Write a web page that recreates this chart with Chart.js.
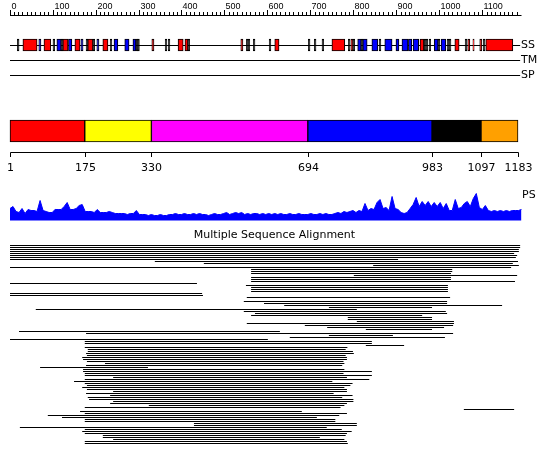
<!DOCTYPE html>
<html>
<head>
<meta charset="utf-8">
<script src="https://cdn.jsdelivr.net/npm/chart.js@4.4.0/dist/chart.umd.min.js"></script>
<style>
  html, body { margin: 0; padding: 0; background: #fff; }
  canvas { display: block; }
</style>
</head>
<body>
<canvas id="id_graph" width="550" height="465"></canvas>
<script>
// Longitud de la secuencia y marcas de los ejes
var seqLength = 1183;
var rulerTicks = [0, 100, 200, 300, 400, 500, 600, 700, 800, 900, 1000, 1100];
var domainTicks = [1, 175, 330, 694, 983, 1097, 1183];

// Dominios
var domainStart = [1, 175, 330, 694, 983, 1097];
var domainEnd = [175, 330, 694, 983, 1097, 1183];

// Estructura secundaria (SS)
var helixStart = [31, 80, 124, 152, 182, 217, 331, 392, 408, 538, 617, 750, 794, 955, 1036, 1066, 1078, 1094, 1108];
var helixEnd = [64, 96, 136, 164, 194, 229, 336, 404, 415, 543, 627, 780, 799, 964, 1046, 1071, 1081, 1099, 1171];
var strandStart = [68, 110, 137, 166, 203, 243, 268, 287, 810, 822, 843, 873, 899, 913, 928, 939, 988, 1004];
var strandEnd = [73, 120, 145, 171, 208, 252, 278, 294, 818, 832, 857, 890, 906, 927, 936, 952, 997, 1015];
var coilMarks = [20, 103, 122, 180, 196, 236, 297, 300, 364, 371, 417, 553, 557, 569, 606, 697, 711, 729,
  790, 801, 820, 862, 967, 971, 978, 999, 1020, 1025, 1062, 1104];

// Perfil PS (una muestra cada 7 residuos)
var psStep = 7;
var psValues = [
  12, 14, 9, 8, 12, 7, 11, 10, 10, 9,
  20, 10, 9, 8, 8, 11, 11, 11, 14, 18,
  11, 11, 12, 15, 16, 9, 9, 9, 8, 11,
  8, 8, 8, 9, 8, 7, 7, 7, 7, 6,
  7, 7, 10, 6, 6, 6, 5, 6, 5, 5,
  6, 5, 5, 6, 6, 7, 6, 6, 7, 6,
  6, 7, 6, 7, 6, 6, 5, 6, 7, 6,
  6, 7, 8, 6, 7, 8, 7, 8, 6, 7,
  6, 7, 7, 6, 7, 6, 7, 6, 7,
  6, 7, 6, 6, 7, 6, 6, 7, 6, 6,
  6, 7, 6, 6, 7, 6, 7, 6, 6, 7,
  8, 7, 9, 8, 9, 10, 8, 10, 9, 17,
  10, 12, 11, 18, 21, 12, 13, 10, 24, 12,
  11, 8, 7, 8, 12, 16, 23, 14, 19, 15,
  19, 14, 18, 14, 18, 12, 17, 10, 10, 21,
  12, 13, 17, 19, 14, 22, 27, 13, 11, 15,
  10, 9, 10, 9, 10, 9, 10, 9, 10, 10,
  10, 11
];

// Alineamiento multiple: inicio y fin de cada fila (null = fila vacia)
var msaStart = [1, 1, 1, 1, 1, 1, 1, 1, 338, 452,
  846, 1, 562, 562, 562, 801, 562, 562, 562, 1,
  550, 562, 562, 562, 1, 1, 552, null, 545, 592,
  639, 743, 61, 545, 571, 562, 787, 787, 808, 552,
  687, 739, 829, 22, 178, 743, 652, 1, 175, 175,
  829, 175, 182, 182, 178, 180, 169, 171, 180, 222,
  178, 71, 171, 171, 175, 175, 241, 175, 150, 175,
  180, 169, 180, 241, 178, 234, 182, 185, 241, 234,
  324, 175, 1057, 164, 175, 89, 122, 175, 175, 429,
  429, 24, 175, 169, 175, 217, 217, 241, 175, 175];
var msaEnd = [1188, 1188, 1185, 1185, 1174, 1181, 1178, 904, 1183, 1171,
  1185, 1167, 1030, 1030, 1027, 1181, 1027, 1027, 1176, 436,
  1020, 1020, 1020, 1020, 448, 450, 1025, null, 1018, 1018,
  1146, 983, 808, 1015, 1018, 960, 983, 983, 1034, 1034,
  1032, 1011, 983, 629, 1032, 892, 1013, 601, 843, 843,
  918, 786, 782, 799, 801, 782, 785, 785, 777, 779,
  774, 322, 779, 843, 777, 843, 785, 837, 751, 798,
  793, 779, 785, 785, 754, 798, 774, 800, 800, 785,
  779, 770, 1174, 680, 785, 767, 715, 758, 758, 808,
  808, 738, 773, 796, 785, 782, 722, 779, 785, 787];

// ---- estilos y posiciones ----
var domainColors = ['#ff0000', '#ffff00', '#ff00ff', '#0000ff', '#000000', '#ffa000'];
var trackEnd = 1188;
var ssY = 45, tmY = 60.5, spY = 75.5, domY = 131;
var msaTop = 245.5, msaGap = 2;
var psBase = 220.5;

// escala x: residuo 1 -> px 10, residuo 1183 -> px 518
var pxPerRes = 508 / (seqLength - 1);
var xMin = 1 - 10 / pxPerRes;
var xMax = xMin + 550 / pxPerRes;

function pixelAxis(min, max, reverse) {
  return { type: 'linear', axis: 'y', display: false, offset: false, min: min, max: max, reverse: reverse };
}

// barras SS
var ssData = [], ssColors = [];
helixStart.forEach(function (s, i) { ssData.push({ x: [s, helixEnd[i]], y: ssY }); ssColors.push('#ff0000'); });
strandStart.forEach(function (s, i) { ssData.push({ x: [s, strandEnd[i]], y: ssY }); ssColors.push('#0000ff'); });
coilMarks.forEach(function (r) { ssData.push({ x: [r - 2, r + 2], y: ssY }); ssColors.push('#000000'); });

var domData = domainStart.map(function (s, i) { return { x: [s, domainEnd[i]], y: domY }; });

var psData = psValues.map(function (v, i) { return { x: 1 + i * psStep, y: v }; });

var msaData = [];
msaStart.forEach(function (s, k) {
  if (s === null) return;
  msaData.push({ x: s, y: k }, { x: msaEnd[k], y: k }, { x: msaEnd[k], y: null });
});

function trackLine(y) {
  return { type: 'line', data: [{ x: 1, y: y }, { x: trackEnd, y: y }], yAxisID: 'y',
    borderColor: '#000', borderWidth: 1, pointRadius: 0, fill: false, order: 2 };
}

var sketchPlugin = {
  id: 'sketch',
  afterDatasetsDraw: function (chart) {
    var ctx = chart.ctx;
    var xs = chart.scales.x;
    function px(v) { return Math.round(xs.getPixelForValue(v)) + 0.5; }
    ctx.save();
    ctx.strokeStyle = '#000';
    ctx.fillStyle = '#000';
    ctx.lineWidth = 1;

    // regla superior
    ctx.beginPath();
    ctx.moveTo(px(1), 15.5);
    ctx.lineTo(px(1190), 15.5);
    for (var t = 0; t <= seqLength; t += 10) {
      var major = rulerTicks.indexOf(t) >= 0;
      ctx.moveTo(px(t), major ? 10 : 12);
      ctx.lineTo(px(t), 16);
    }
    ctx.stroke();
    ctx.font = '9px "Liberation Sans"';
    ctx.textAlign = 'left';
    ctx.textBaseline = 'alphabetic';
    rulerTicks.forEach(function (t) { ctx.fillText(String(t), px(t) + 1, 9); });

    // eje de dominios
    ctx.beginPath();
    ctx.moveTo(px(1), 152.5);
    ctx.lineTo(px(seqLength), 152.5);
    domainTicks.forEach(function (t) { ctx.moveTo(px(t), 152.5); ctx.lineTo(px(t), 157); });
    ctx.stroke();
    ctx.font = '11px "DejaVu Sans"';
    ctx.textAlign = 'center';
    ctx.textBaseline = 'middle';
    domainTicks.forEach(function (t) { ctx.fillText(String(t), px(t), 168); });

    // etiquetas de pistas
    ctx.textAlign = 'left';
    ctx.fillText('SS', 521, ssY + 0.5);
    ctx.fillText('TM', 521, tmY);
    ctx.fillText('SP', 521, spY);
    ctx.fillText('PS', 522, 195.5);
    ctx.textAlign = 'center';
    ctx.fillText('Multiple Sequence Alignment', 274.5, 235);
    ctx.restore();
  }
};

var ctx = document.getElementById('id_graph').getContext('2d');
new Chart(ctx, {
  type: 'line',
  data: {
    datasets: [
      {
        type: 'bar', indexAxis: 'y', yAxisID: 'ySS', data: ssData,
        backgroundColor: ssColors, borderColor: '#000', borderWidth: 1,
        borderSkipped: false, barThickness: 12, order: 0
      },
      {
        type: 'bar', indexAxis: 'y', yAxisID: 'yDom', data: domData,
        backgroundColor: domainColors, borderColor: '#000', borderWidth: 1,
        borderSkipped: false, barThickness: 22, order: 0
      },
      trackLine(ssY + 0.5),
      trackLine(tmY),
      trackLine(spY),
      {
        type: 'line', yAxisID: 'yPs', data: psData,
        borderColor: '#0000ff', backgroundColor: '#0000ff', borderWidth: 1,
        pointRadius: 0, fill: 'origin', tension: 0, order: 3
      },
      {
        type: 'line', yAxisID: 'yMsa', data: msaData,
        borderColor: '#000', borderWidth: 1, pointRadius: 0, fill: false,
        spanGaps: false, order: 2
      }
    ]
  },
  options: {
    responsive: false,
    animation: false,
    devicePixelRatio: 1,
    layout: { padding: 0 },
    plugins: { legend: { display: false }, tooltip: { enabled: false } },
    scales: {
      x: { type: 'linear', display: false, offset: false, min: xMin, max: xMax },
      y: pixelAxis(0, 465, true),
      ySS: pixelAxis(0, 465, true),
      yDom: pixelAxis(0, 465, true),
      yPs: pixelAxis(-(465 - psBase), psBase, false),
      yMsa: pixelAxis(-msaTop / msaGap, (465 - msaTop) / msaGap, true)
    }
  },
  plugins: [sketchPlugin]
});
</script>
</body>
</html>
